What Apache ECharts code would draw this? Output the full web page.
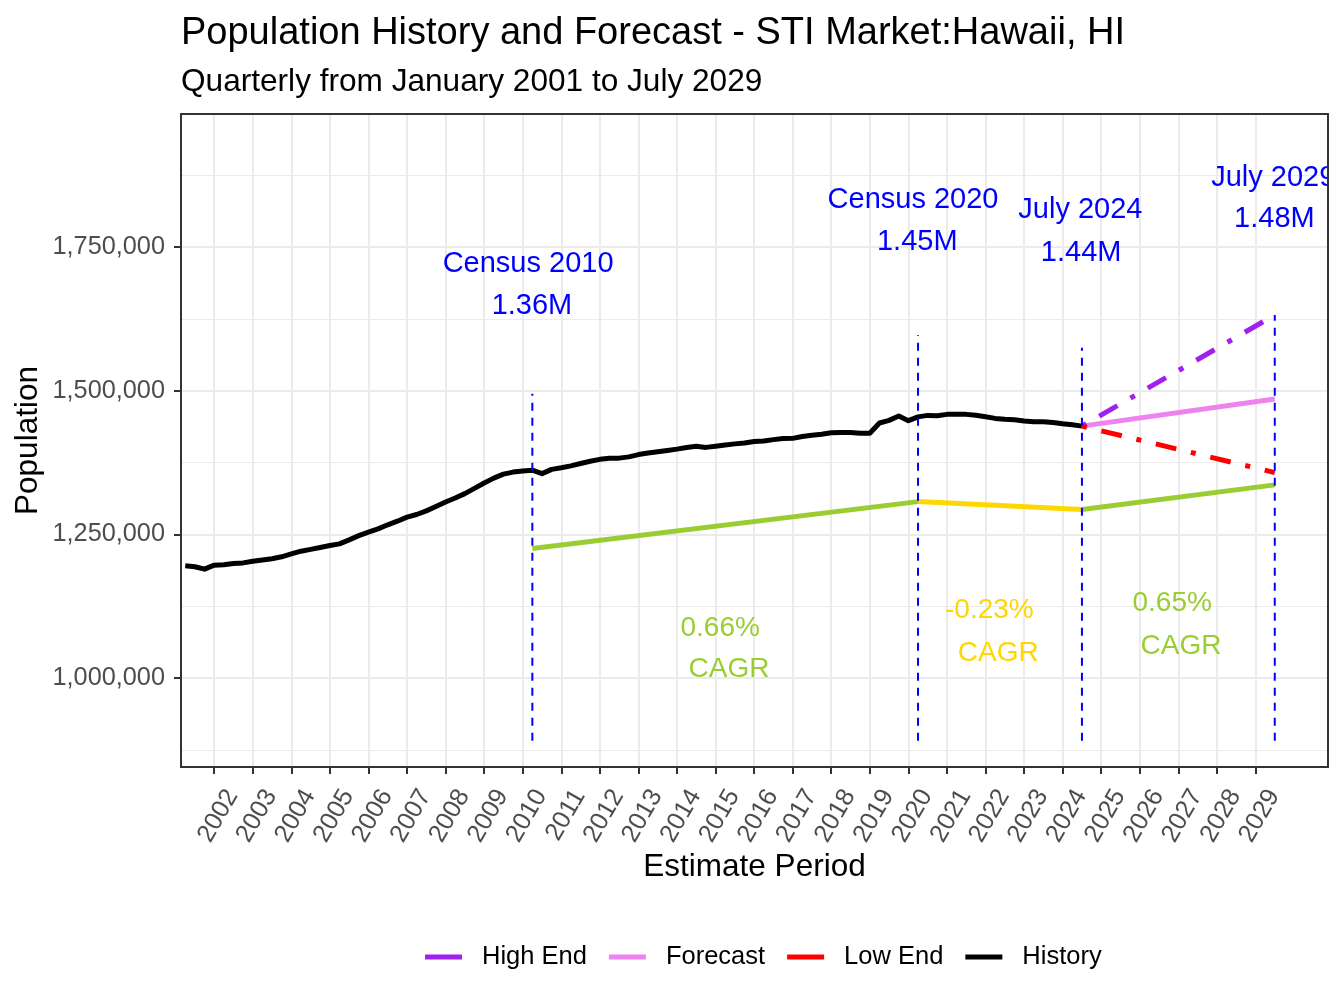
<!DOCTYPE html>
<html>
<head>
<meta charset="utf-8">
<title>Population History and Forecast - STI Market:Hawaii, HI</title>
<script src="https://cdn.jsdelivr.net/npm/echarts@6/dist/echarts.min.js"></script>
<style>
  html, body { margin: 0; padding: 0; background: #fff; }
  #chart { width: 1344px; height: 1008px; }
</style>
</head>
<body>
<div id="chart"></div>
<script>
// quarterly history, first point is April 2001, last is July 2024
var histStart = 2001.25;
var histValues = [
  1195500, 1193700, 1189500,
  1196500, 1197000, 1199200, 1200400,
  1203200, 1205500, 1207700, 1211000,
  1216000, 1220800, 1224000, 1227300,
  1230600, 1233500, 1240500, 1247800,
  1254000, 1259700, 1266700, 1273000,
  1280000, 1284700, 1291000, 1298500,
  1306400, 1313300, 1321000, 1330200,
  1339500, 1348000, 1355000, 1358500,
  1360500, 1361800, 1355800, 1363200,
  1366000, 1369400, 1373500, 1377300,
  1380700, 1382400, 1382800, 1385000,
  1389000, 1391700, 1393900, 1396200,
  1398500, 1401400, 1403300, 1401500,
  1403600, 1405800, 1407600, 1409300,
  1411600, 1412700, 1415000, 1416800,
  1417200, 1420500, 1422700, 1424500,
  1427000, 1427500, 1427500, 1426200,
  1426000, 1444000, 1448500, 1456000,
  1448000, 1454600, 1457200, 1456500,
  1459000, 1459100, 1459000, 1457300,
  1454800, 1452000, 1450600, 1449700,
  1447600, 1446300, 1446200, 1445000,
  1442700, 1440800, 1438500
];

// forecast fan, July 2024 -> July 2029
var fcYears = [2024.5, 2029.5];
var fcValues = [1438500, 1485600];
var highValues = [1438500, 1632000];
var lowValues = [1438500, 1357600];

// CAGR guide line under the history
var cagrYears = [2010.25, 2020.25, 2024.5, 2029.5];
var cagrValues = [1225300, 1307100, 1293200, 1336200];
var cagrColors = ['#9ACD32', '#FFD700', '#9ACD32'];
var cagrPct = ['0.66%', '-0.23%', '0.65%'];
var cagrPctX = [2015.12, 2022.10, 2026.84];
var cagrPctY = [1087200, 1118600, 1130900];
var cagrWordX = [2015.35, 2022.33, 2027.07];
var cagrWordY = [1015800, 1043700, 1056000];

// blue marker lines and their labels
var markYears = [2010.25, 2020.25, 2024.5, 2029.5];
var markTops = [1495000, 1597000, 1575000, 1632000];
var markBottom = 890500;
var markNames = ['Census 2010', 'Census 2020', 'July 2024', 'July 2029'];
var markNameX = [2010.14, 2020.12, 2024.46, 2029.46];
var markNameY = [1721000, 1832400, 1815000, 1870700];
var markVals = ['1.36M', '1.45M', '1.44M', '1.48M'];
var markValX = [2010.24, 2020.23, 2024.48, 2029.49];
var markValY = [1647800, 1759200, 1740100, 1799300];

// axes
var xMin = 2001.14, xMax = 2030.88;
var yMin = 845000, yMax = 1982000;
var xTickFirst = 2002, xTickLast = 2029;   // labelled years
var yTickFirst = 1000000, yTickLast = 1750000, yTickStep = 250000;
var yMinorFirst = 875000, yMinorLast = 1875000;

var legendNames = ['High End', 'Forecast', 'Low End', 'History'];

var W = 1344, H = 1008;
var gridL = 181, gridR = 16, gridT = 114, gridB = 241;
var FONT = '"Liberation Sans", Arial, sans-serif';

function xToPx(x) {
  return gridL + (x - xMin) / (xMax - xMin) * (W - gridL - gridR);
}
function yToPx(y) {
  return gridT + (yMax - y) / (yMax - yMin) * (H - gridT - gridB);
}
function commas(v) {
  return String(v).replace(/\B(?=(\d{3})+(?!\d))/g, ',');
}

var chart = echarts.init(document.getElementById('chart'));

var histData = histValues.map(function (v, i) {
  return [histStart + i * 0.25, v];
});
function pairs(xs, ys) {
  return xs.map(function (x, i) { return [x, ys[i]]; });
}

// texts drawn inside the panel (clipped at the border)
var texts = [];
markNames.forEach(function (t, i) {
  texts.push({ v: [markNameX[i], markNameY[i]], text: t, color: '#0000FF', size: 29 });
  texts.push({ v: [markValX[i], markValY[i]], text: markVals[i], color: '#0000FF', size: 29 });
});
cagrPct.forEach(function (t, i) {
  texts.push({ v: [cagrPctX[i], cagrPctY[i]], text: t, color: cagrColors[i], size: 28 });
  texts.push({ v: [cagrWordX[i], cagrWordY[i]], text: 'CAGR', color: cagrColors[i], size: 28 });
});

var series = [];

series.push({
  name: 'History', type: 'line', data: histData, showSymbol: false,
  color: '#000000', lineStyle: { width: 5, join: 'round' }, z: 3
});
series.push({
  name: 'Forecast', type: 'line', data: pairs(fcYears, fcValues), showSymbol: false,
  color: '#EE82EE', lineStyle: { width: 5 }, z: 3
});
series.push({
  name: 'High End', type: 'line', data: pairs(fcYears, highValues), showSymbol: false,
  color: '#A020F0', lineStyle: { width: 5, type: [5, 15, 21, 15], cap: 'butt' }, z: 3
});
series.push({
  name: 'Low End', type: 'line', data: pairs(fcYears, lowValues), showSymbol: false,
  color: '#FF0000', lineStyle: { width: 5, type: [5, 15, 21, 15], cap: 'butt' }, z: 3
});

// CAGR segments
for (var i = 0; i < cagrColors.length; i++) {
  series.push({
    type: 'line', showSymbol: false, z: 3,
    data: [[cagrYears[i], cagrValues[i]], [cagrYears[i + 1], cagrValues[i + 1]]],
    color: cagrColors[i], lineStyle: { width: 5 }
  });
}

// blue dashed markers
markYears.forEach(function (x, i) {
  series.push({
    type: 'line', showSymbol: false, z: 4,
    data: [[x, markBottom], [x, markTops[i]]],
    color: '#0000FF', lineStyle: { width: 2, type: [8, 7] }
  });
});

series.push({
  type: 'custom', clip: true, z: 5,
  data: texts.map(function (t) { return t.v; }),
  renderItem: function (params, api) {
    var t = texts[params.dataIndex];
    var p = api.coord([api.value(0), api.value(1)]);
    return {
      type: 'text', x: p[0], y: p[1],
      style: {
        text: t.text, fill: t.color, align: 'center', verticalAlign: 'middle',
        font: t.size + 'px ' + FONT
      }
    };
  }
});

var hiddenAxis = function (gi) {
  return { gridIndex: gi, type: 'value', show: false };
};

// the tick axis runs one year beyond each labelled end; those ends are hidden
var tickAxisMin = xTickFirst - 1, tickAxisMax = xTickLast + 1;

var option = {
  animation: false,
  backgroundColor: '#ffffff',
  textStyle: { fontFamily: FONT },
  title: {
    text: 'Population History and Forecast - STI Market:Hawaii, HI',
    subtext: 'Quarterly from January 2001 to July 2029',
    left: gridL, top: 15, padding: 0, itemGap: 13,
    textStyle: { fontSize: 38, fontWeight: 'normal', color: '#000000', fontFamily: FONT },
    subtextStyle: { fontSize: 31.6, color: '#000000', fontFamily: FONT }
  },
  legend: {
    data: legendNames,
    left: 425, top: 944, padding: 0,
    icon: 'rect', itemWidth: 37, itemHeight: 5, itemGap: 22,
    textStyle: { fontSize: 25.5, color: '#000000', padding: [0, 0, 0, 15], fontFamily: FONT }
  },
  grid: [
    { left: gridL, right: gridR, top: gridT, bottom: gridB },
    { left: xToPx(tickAxisMin), right: W - xToPx(tickAxisMax), top: gridT, bottom: gridB },
    { left: gridL, right: gridR, top: yToPx(yTickLast), bottom: H - yToPx(yTickFirst) },
    { left: gridL, right: gridR, top: yToPx(yMinorLast), bottom: H - yToPx(yMinorFirst) }
  ],
  xAxis: [
    {
      gridIndex: 0, type: 'value', min: xMin, max: xMax,
      name: 'Estimate Period', nameLocation: 'middle', nameGap: 84,
      nameTextStyle: { fontSize: 31.5, color: '#000000', fontFamily: FONT },
      axisLine: { show: false }, axisTick: { show: false },
      axisLabel: { show: false }, splitLine: { show: false }
    },
    {
      gridIndex: 1, type: 'value', min: tickAxisMin, max: tickAxisMax, interval: 1,
      axisLine: { show: false },
      axisTick: { show: true, length: 7, lineStyle: { color: '#333333', width: 2 } },
      axisLabel: {
        rotate: 60, align: 'right', verticalAlign: 'top', lineHeight: 42, margin: 14,
        showMinLabel: false, showMaxLabel: false,
        fontSize: 25.3, color: '#4D4D4D', fontFamily: FONT,
        formatter: function (v) {
          return (v >= xTickFirst && v <= xTickLast) ? String(v) : '';
        }
      },
      splitLine: {
        show: true, showMinLine: false, showMaxLine: false,
        lineStyle: { color: '#EBEBEB', width: 2 }
      }
    },
    hiddenAxis(2),
    hiddenAxis(3)
  ],
  yAxis: [
    {
      gridIndex: 0, type: 'value', min: yMin, max: yMax,
      name: 'Population', nameLocation: 'middle', nameGap: 137,
      nameTextStyle: { fontSize: 31.5, color: '#000000', fontFamily: FONT },
      axisLine: { show: false }, axisTick: { show: false },
      axisLabel: { show: false }, splitLine: { show: false }
    },
    hiddenAxis(1),
    {
      gridIndex: 2, type: 'value', min: yTickFirst, max: yTickLast, interval: yTickStep,
      axisLine: { show: false },
      axisTick: { show: true, length: 7, lineStyle: { color: '#333333', width: 2 } },
      axisLabel: {
        margin: 16, padding: [4, 0, 0, 0], fontSize: 25.3, color: '#4D4D4D', fontFamily: FONT,
        formatter: commas, showMinLabel: true, showMaxLabel: true
      },
      splitLine: { show: true, lineStyle: { color: '#EBEBEB', width: 2 } },
      minorTick: { show: false, splitNumber: 2 },
      minorSplitLine: { show: true, lineStyle: { color: '#EBEBEB', width: 1 } }
    },
    {
      gridIndex: 3, type: 'value', min: yMinorFirst, max: yMinorLast, interval: yMinorLast - yMinorFirst,
      axisLine: { show: false }, axisTick: { show: false }, axisLabel: { show: false },
      splitLine: { show: true, lineStyle: { color: '#EBEBEB', width: 1 } }
    }
  ],
  graphic: [{
    type: 'rect', z: 100, silent: true,
    shape: { x: gridL, y: gridT, width: W - gridL - gridR, height: H - gridT - gridB },
    style: { fill: 'none', stroke: '#333333', lineWidth: 2 }
  }],
  series: series
};

chart.setOption(option);
</script>
</body>
</html>
